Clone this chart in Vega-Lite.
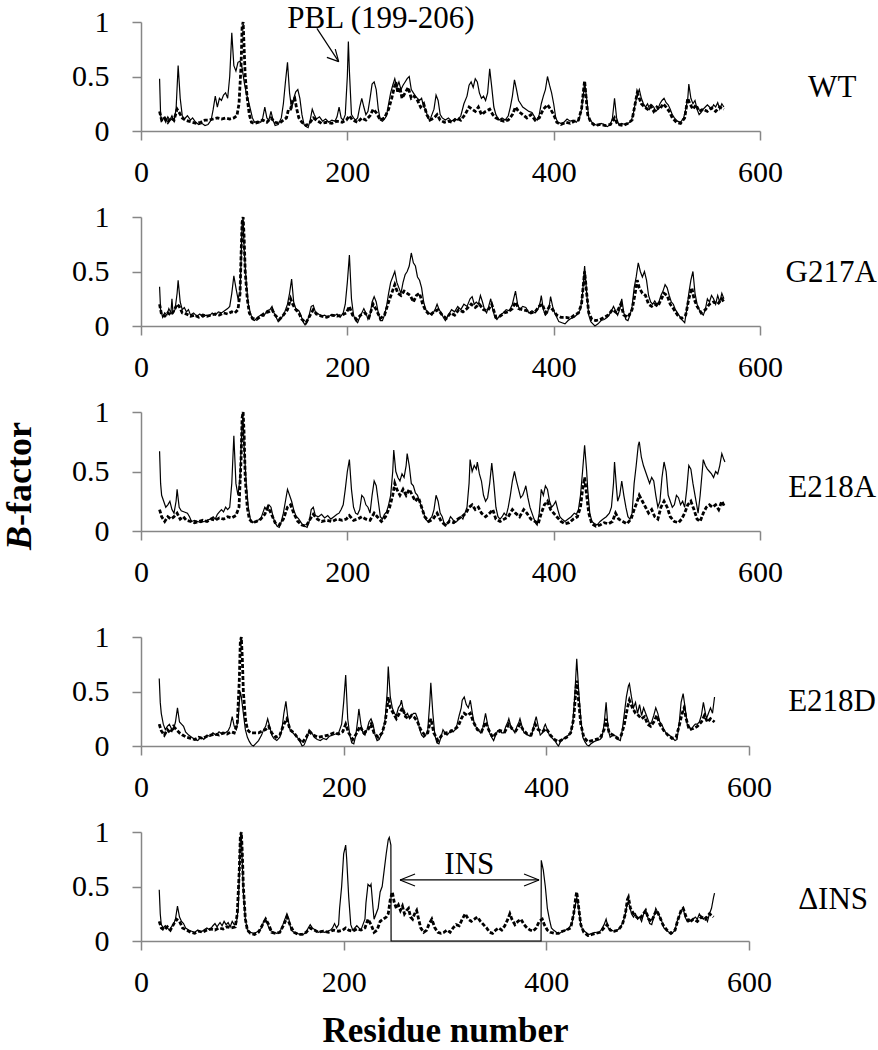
{
"$schema":"https://vega.github.io/schema/vega-lite/v6.json",
"background":"white",
"padding":{"left":2,"top":2,"right":0,"bottom":0},
"spacing":15,
"config":{
 "font":"Liberation Serif",
 "view":{"stroke":null},
 "line":{"color":"black"},
 "axis":{"grid":false,"domainColor":"#868686","domainWidth":1.5,"tickColor":"#868686","tickWidth":1.5,"tickSize":9,"labelFont":"Liberation Serif","labelFontSize":30,"labelColor":"black","labelFlush":false,"labelOverlap":false,"titleFont":"Liberation Serif","titleColor":"black"},
 "axisX":{"labelPadding":17},
 "axisY":{"labelPadding":23}
},
"datasets":{
"wt_s":[{"x":18,"y":0.48},{"x":19,"y":0.15},{"x":20,"y":0.09},{"x":22,"y":0.12},{"x":24,"y":0.08},{"x":26,"y":0.13},{"x":28,"y":0.1},{"x":30,"y":0.14},{"x":32,"y":0.09},{"x":34,"y":0.2},{"x":36,"y":0.6},{"x":38,"y":0.3},{"x":40,"y":0.14},{"x":42,"y":0.11},{"x":45,"y":0.14},{"x":48,"y":0.1},{"x":50,"y":0.12},{"x":53,"y":0.08},{"x":56,"y":0.06},{"x":59,"y":0.07},{"x":62,"y":0.05},{"x":65,"y":0.06},{"x":68,"y":0.1},{"x":70,"y":0.2},{"x":72,"y":0.32},{"x":74,"y":0.22},{"x":76,"y":0.3},{"x":78,"y":0.28},{"x":80,"y":0.33},{"x":82,"y":0.35},{"x":84,"y":0.3},{"x":86,"y":0.5},{"x":88,"y":0.9},{"x":90,"y":0.6},{"x":92,"y":0.55},{"x":94,"y":0.63},{"x":96,"y":0.64},{"x":98,"y":0.58},{"x":100,"y":0.45},{"x":102,"y":0.35},{"x":104,"y":0.28},{"x":106,"y":0.2},{"x":108,"y":0.12},{"x":110,"y":0.08},{"x":113,"y":0.09},{"x":116,"y":0.08},{"x":118,"y":0.12},{"x":120,"y":0.22},{"x":122,"y":0.12},{"x":124,"y":0.1},{"x":126,"y":0.18},{"x":128,"y":0.1},{"x":130,"y":0.05},{"x":133,"y":0.06},{"x":136,"y":0.12},{"x":138,"y":0.25},{"x":140,"y":0.45},{"x":142,"y":0.63},{"x":144,"y":0.35},{"x":146,"y":0.2},{"x":148,"y":0.3},{"x":150,"y":0.36},{"x":152,"y":0.38},{"x":154,"y":0.3},{"x":156,"y":0.15},{"x":158,"y":0.06},{"x":160,"y":0.04},{"x":162,"y":0.03},{"x":164,"y":0.1},{"x":166,"y":0.2},{"x":168,"y":0.15},{"x":170,"y":0.11},{"x":173,"y":0.13},{"x":176,"y":0.09},{"x":179,"y":0.11},{"x":182,"y":0.08},{"x":185,"y":0.1},{"x":188,"y":0.09},{"x":190,"y":0.13},{"x":192,"y":0.22},{"x":194,"y":0.12},{"x":196,"y":0.1},{"x":198,"y":0.15},{"x":200,"y":0.5},{"x":201,"y":0.82},{"x":202,"y":0.55},{"x":204,"y":0.15},{"x":206,"y":0.12},{"x":208,"y":0.1},{"x":210,"y":0.12},{"x":212,"y":0.22},{"x":214,"y":0.3},{"x":216,"y":0.22},{"x":218,"y":0.15},{"x":220,"y":0.18},{"x":222,"y":0.3},{"x":224,"y":0.43},{"x":226,"y":0.45},{"x":228,"y":0.38},{"x":230,"y":0.2},{"x":232,"y":0.1},{"x":234,"y":0.09},{"x":236,"y":0.11},{"x":238,"y":0.14},{"x":240,"y":0.25},{"x":242,"y":0.35},{"x":244,"y":0.42},{"x":246,"y":0.48},{"x":248,"y":0.4},{"x":250,"y":0.45},{"x":252,"y":0.38},{"x":254,"y":0.42},{"x":256,"y":0.45},{"x":258,"y":0.48},{"x":260,"y":0.5},{"x":262,"y":0.38},{"x":264,"y":0.35},{"x":266,"y":0.32},{"x":268,"y":0.3},{"x":270,"y":0.28},{"x":272,"y":0.3},{"x":274,"y":0.22},{"x":276,"y":0.2},{"x":278,"y":0.12},{"x":280,"y":0.1},{"x":282,"y":0.15},{"x":284,"y":0.2},{"x":286,"y":0.33},{"x":288,"y":0.28},{"x":290,"y":0.15},{"x":292,"y":0.12},{"x":295,"y":0.1},{"x":298,"y":0.12},{"x":301,"y":0.09},{"x":304,"y":0.11},{"x":307,"y":0.1},{"x":310,"y":0.14},{"x":313,"y":0.25},{"x":316,"y":0.32},{"x":318,"y":0.42},{"x":320,"y":0.45},{"x":322,"y":0.4},{"x":324,"y":0.48},{"x":326,"y":0.45},{"x":328,"y":0.35},{"x":330,"y":0.3},{"x":332,"y":0.32},{"x":334,"y":0.28},{"x":336,"y":0.35},{"x":338,"y":0.57},{"x":340,"y":0.4},{"x":342,"y":0.22},{"x":344,"y":0.15},{"x":347,"y":0.1},{"x":350,"y":0.12},{"x":353,"y":0.1},{"x":356,"y":0.14},{"x":358,"y":0.22},{"x":360,"y":0.32},{"x":362,"y":0.47},{"x":364,"y":0.38},{"x":366,"y":0.28},{"x":368,"y":0.25},{"x":370,"y":0.22},{"x":373,"y":0.2},{"x":376,"y":0.18},{"x":379,"y":0.17},{"x":382,"y":0.12},{"x":384,"y":0.1},{"x":386,"y":0.15},{"x":388,"y":0.25},{"x":390,"y":0.32},{"x":392,"y":0.38},{"x":394,"y":0.5},{"x":396,"y":0.42},{"x":398,"y":0.35},{"x":400,"y":0.25},{"x":402,"y":0.12},{"x":404,"y":0.08},{"x":407,"y":0.07},{"x":410,"y":0.08},{"x":413,"y":0.11},{"x":416,"y":0.09},{"x":419,"y":0.1},{"x":422,"y":0.08},{"x":425,"y":0.12},{"x":427,"y":0.2},{"x":429,"y":0.35},{"x":430,"y":0.45},{"x":432,"y":0.3},{"x":434,"y":0.12},{"x":437,"y":0.08},{"x":440,"y":0.06},{"x":443,"y":0.05},{"x":446,"y":0.07},{"x":449,"y":0.06},{"x":452,"y":0.04},{"x":455,"y":0.06},{"x":457,"y":0.12},{"x":459,"y":0.3},{"x":461,"y":0.12},{"x":463,"y":0.06},{"x":466,"y":0.07},{"x":469,"y":0.06},{"x":472,"y":0.07},{"x":475,"y":0.09},{"x":477,"y":0.15},{"x":479,"y":0.25},{"x":481,"y":0.33},{"x":483,"y":0.38},{"x":485,"y":0.3},{"x":487,"y":0.25},{"x":489,"y":0.22},{"x":491,"y":0.25},{"x":493,"y":0.2},{"x":495,"y":0.24},{"x":497,"y":0.22},{"x":499,"y":0.18},{"x":501,"y":0.2},{"x":503,"y":0.25},{"x":505,"y":0.28},{"x":507,"y":0.3},{"x":509,"y":0.26},{"x":511,"y":0.24},{"x":513,"y":0.2},{"x":515,"y":0.15},{"x":517,"y":0.12},{"x":520,"y":0.09},{"x":523,"y":0.08},{"x":526,"y":0.12},{"x":528,"y":0.2},{"x":530,"y":0.3},{"x":531,"y":0.43},{"x":533,"y":0.3},{"x":535,"y":0.25},{"x":537,"y":0.28},{"x":539,"y":0.2},{"x":541,"y":0.15},{"x":543,"y":0.17},{"x":545,"y":0.2},{"x":547,"y":0.22},{"x":549,"y":0.24},{"x":551,"y":0.22},{"x":553,"y":0.2},{"x":555,"y":0.24},{"x":557,"y":0.22},{"x":559,"y":0.26},{"x":561,"y":0.2},{"x":563,"y":0.25},{"x":565,"y":0.22}],
"wt_d":[{"x":18,"y":0.18},{"x":20,"y":0.1},{"x":23,"y":0.12},{"x":26,"y":0.08},{"x":29,"y":0.12},{"x":32,"y":0.1},{"x":35,"y":0.2},{"x":37,"y":0.17},{"x":40,"y":0.12},{"x":43,"y":0.1},{"x":46,"y":0.09},{"x":50,"y":0.08},{"x":54,"y":0.07},{"x":58,"y":0.08},{"x":62,"y":0.1},{"x":66,"y":0.1},{"x":70,"y":0.11},{"x":74,"y":0.12},{"x":78,"y":0.11},{"x":82,"y":0.12},{"x":86,"y":0.11},{"x":90,"y":0.12},{"x":93,"y":0.14},{"x":95,"y":0.25},{"x":97,"y":0.6},{"x":98,"y":0.95},{"x":99,"y":1.0},{"x":100,"y":0.75},{"x":101,"y":0.5},{"x":103,"y":0.3},{"x":105,"y":0.15},{"x":107,"y":0.08},{"x":110,"y":0.07},{"x":114,"y":0.08},{"x":118,"y":0.1},{"x":122,"y":0.08},{"x":126,"y":0.12},{"x":130,"y":0.08},{"x":134,"y":0.07},{"x":138,"y":0.1},{"x":141,"y":0.12},{"x":143,"y":0.2},{"x":145,"y":0.2},{"x":147,"y":0.28},{"x":149,"y":0.3},{"x":151,"y":0.2},{"x":153,"y":0.12},{"x":156,"y":0.08},{"x":160,"y":0.05},{"x":164,"y":0.08},{"x":167,"y":0.12},{"x":170,"y":0.1},{"x":175,"y":0.07},{"x":180,"y":0.08},{"x":185,"y":0.07},{"x":190,"y":0.09},{"x":195,"y":0.08},{"x":199,"y":0.1},{"x":202,"y":0.14},{"x":205,"y":0.1},{"x":210,"y":0.08},{"x":214,"y":0.12},{"x":218,"y":0.1},{"x":222,"y":0.14},{"x":225,"y":0.2},{"x":228,"y":0.17},{"x":232,"y":0.1},{"x":236,"y":0.12},{"x":240,"y":0.2},{"x":243,"y":0.3},{"x":245,"y":0.38},{"x":247,"y":0.45},{"x":249,"y":0.35},{"x":251,"y":0.4},{"x":253,"y":0.3},{"x":256,"y":0.35},{"x":259,"y":0.4},{"x":262,"y":0.3},{"x":265,"y":0.32},{"x":268,"y":0.28},{"x":271,"y":0.22},{"x":274,"y":0.25},{"x":277,"y":0.15},{"x":280,"y":0.1},{"x":284,"y":0.12},{"x":287,"y":0.15},{"x":290,"y":0.1},{"x":294,"y":0.08},{"x":298,"y":0.09},{"x":302,"y":0.08},{"x":306,"y":0.12},{"x":310,"y":0.1},{"x":314,"y":0.15},{"x":318,"y":0.22},{"x":321,"y":0.2},{"x":324,"y":0.18},{"x":327,"y":0.22},{"x":330,"y":0.15},{"x":334,"y":0.18},{"x":338,"y":0.2},{"x":341,"y":0.15},{"x":344,"y":0.12},{"x":348,"y":0.1},{"x":352,"y":0.09},{"x":356,"y":0.1},{"x":360,"y":0.15},{"x":363,"y":0.22},{"x":366,"y":0.18},{"x":370,"y":0.15},{"x":374,"y":0.12},{"x":378,"y":0.15},{"x":382,"y":0.1},{"x":386,"y":0.12},{"x":390,"y":0.2},{"x":394,"y":0.24},{"x":397,"y":0.2},{"x":400,"y":0.15},{"x":403,"y":0.08},{"x":407,"y":0.06},{"x":412,"y":0.08},{"x":416,"y":0.07},{"x":420,"y":0.09},{"x":424,"y":0.1},{"x":427,"y":0.2},{"x":429,"y":0.38},{"x":430,"y":0.46},{"x":431,"y":0.35},{"x":433,"y":0.15},{"x":436,"y":0.08},{"x":440,"y":0.05},{"x":445,"y":0.06},{"x":450,"y":0.05},{"x":455,"y":0.06},{"x":459,"y":0.12},{"x":462,"y":0.06},{"x":467,"y":0.05},{"x":472,"y":0.07},{"x":476,"y":0.1},{"x":479,"y":0.25},{"x":481,"y":0.35},{"x":483,"y":0.3},{"x":485,"y":0.25},{"x":488,"y":0.22},{"x":491,"y":0.2},{"x":494,"y":0.23},{"x":497,"y":0.18},{"x":500,"y":0.22},{"x":503,"y":0.2},{"x":506,"y":0.25},{"x":509,"y":0.22},{"x":512,"y":0.18},{"x":515,"y":0.12},{"x":519,"y":0.08},{"x":523,"y":0.07},{"x":527,"y":0.12},{"x":530,"y":0.3},{"x":532,"y":0.25},{"x":535,"y":0.2},{"x":538,"y":0.24},{"x":541,"y":0.18},{"x":545,"y":0.2},{"x":549,"y":0.18},{"x":553,"y":0.21},{"x":557,"y":0.18},{"x":561,"y":0.22},{"x":565,"y":0.2}],
"g_s":[{"x":18,"y":0.36},{"x":19,"y":0.15},{"x":21,"y":0.08},{"x":23,"y":0.12},{"x":25,"y":0.1},{"x":27,"y":0.16},{"x":29,"y":0.12},{"x":30,"y":0.25},{"x":31,"y":0.12},{"x":33,"y":0.15},{"x":35,"y":0.3},{"x":36,"y":0.42},{"x":38,"y":0.22},{"x":40,"y":0.15},{"x":42,"y":0.17},{"x":44,"y":0.13},{"x":46,"y":0.15},{"x":48,"y":0.1},{"x":51,"y":0.12},{"x":54,"y":0.09},{"x":57,"y":0.11},{"x":60,"y":0.08},{"x":63,"y":0.1},{"x":66,"y":0.09},{"x":69,"y":0.12},{"x":72,"y":0.1},{"x":75,"y":0.13},{"x":78,"y":0.12},{"x":81,"y":0.14},{"x":84,"y":0.16},{"x":86,"y":0.18},{"x":88,"y":0.3},{"x":90,"y":0.46},{"x":92,"y":0.35},{"x":94,"y":0.25},{"x":96,"y":0.3},{"x":97,"y":0.6},{"x":98,"y":0.95},{"x":99,"y":0.98},{"x":100,"y":0.7},{"x":102,"y":0.4},{"x":104,"y":0.2},{"x":106,"y":0.12},{"x":108,"y":0.06},{"x":110,"y":0.05},{"x":113,"y":0.08},{"x":116,"y":0.1},{"x":119,"y":0.09},{"x":122,"y":0.14},{"x":125,"y":0.15},{"x":127,"y":0.18},{"x":129,"y":0.12},{"x":131,"y":0.08},{"x":133,"y":0.04},{"x":136,"y":0.07},{"x":139,"y":0.12},{"x":142,"y":0.2},{"x":144,"y":0.3},{"x":146,"y":0.43},{"x":148,"y":0.22},{"x":150,"y":0.16},{"x":153,"y":0.14},{"x":155,"y":0.1},{"x":157,"y":0.04},{"x":159,"y":0.01},{"x":161,"y":0.04},{"x":163,"y":0.1},{"x":165,"y":0.18},{"x":167,"y":0.19},{"x":169,"y":0.13},{"x":172,"y":0.11},{"x":175,"y":0.09},{"x":178,"y":0.1},{"x":181,"y":0.08},{"x":184,"y":0.1},{"x":187,"y":0.09},{"x":190,"y":0.11},{"x":193,"y":0.08},{"x":196,"y":0.12},{"x":198,"y":0.2},{"x":200,"y":0.4},{"x":202,"y":0.65},{"x":204,"y":0.25},{"x":206,"y":0.1},{"x":208,"y":0.05},{"x":210,"y":0.03},{"x":212,"y":0.08},{"x":214,"y":0.12},{"x":216,"y":0.16},{"x":218,"y":0.12},{"x":220,"y":0.06},{"x":222,"y":0.1},{"x":224,"y":0.22},{"x":226,"y":0.27},{"x":228,"y":0.22},{"x":230,"y":0.12},{"x":232,"y":0.05},{"x":234,"y":0.05},{"x":236,"y":0.1},{"x":238,"y":0.18},{"x":240,"y":0.3},{"x":242,"y":0.4},{"x":244,"y":0.45},{"x":246,"y":0.5},{"x":248,"y":0.4},{"x":250,"y":0.35},{"x":252,"y":0.3},{"x":254,"y":0.4},{"x":256,"y":0.47},{"x":258,"y":0.5},{"x":260,"y":0.55},{"x":262,"y":0.67},{"x":264,"y":0.58},{"x":266,"y":0.55},{"x":268,"y":0.45},{"x":270,"y":0.42},{"x":272,"y":0.35},{"x":274,"y":0.22},{"x":276,"y":0.15},{"x":279,"y":0.12},{"x":282,"y":0.1},{"x":285,"y":0.15},{"x":287,"y":0.2},{"x":289,"y":0.15},{"x":291,"y":0.12},{"x":293,"y":0.08},{"x":295,"y":0.05},{"x":298,"y":0.1},{"x":301,"y":0.15},{"x":304,"y":0.13},{"x":307,"y":0.18},{"x":310,"y":0.15},{"x":313,"y":0.2},{"x":316,"y":0.18},{"x":319,"y":0.25},{"x":321,"y":0.27},{"x":323,"y":0.2},{"x":325,"y":0.22},{"x":327,"y":0.2},{"x":329,"y":0.28},{"x":331,"y":0.22},{"x":333,"y":0.15},{"x":335,"y":0.12},{"x":337,"y":0.18},{"x":339,"y":0.25},{"x":341,"y":0.15},{"x":343,"y":0.08},{"x":345,"y":0.06},{"x":348,"y":0.1},{"x":351,"y":0.12},{"x":354,"y":0.15},{"x":357,"y":0.14},{"x":360,"y":0.2},{"x":362,"y":0.28},{"x":363,"y":0.32},{"x":365,"y":0.2},{"x":367,"y":0.15},{"x":370,"y":0.18},{"x":373,"y":0.17},{"x":376,"y":0.12},{"x":379,"y":0.14},{"x":382,"y":0.12},{"x":385,"y":0.16},{"x":387,"y":0.22},{"x":388,"y":0.28},{"x":390,"y":0.15},{"x":392,"y":0.1},{"x":394,"y":0.12},{"x":396,"y":0.2},{"x":397,"y":0.27},{"x":399,"y":0.18},{"x":401,"y":0.12},{"x":403,"y":0.08},{"x":405,"y":0.04},{"x":408,"y":0.03},{"x":411,"y":0.02},{"x":414,"y":0.05},{"x":417,"y":0.07},{"x":420,"y":0.08},{"x":423,"y":0.11},{"x":426,"y":0.15},{"x":428,"y":0.3},{"x":430,"y":0.55},{"x":432,"y":0.3},{"x":434,"y":0.1},{"x":436,"y":0.04},{"x":438,"y":0.02},{"x":440,"y":0.0},{"x":443,"y":0.02},{"x":446,"y":0.05},{"x":449,"y":0.06},{"x":452,"y":0.08},{"x":455,"y":0.12},{"x":458,"y":0.18},{"x":460,"y":0.14},{"x":462,"y":0.1},{"x":464,"y":0.15},{"x":466,"y":0.25},{"x":468,"y":0.12},{"x":470,"y":0.06},{"x":472,"y":0.05},{"x":474,"y":0.1},{"x":476,"y":0.18},{"x":478,"y":0.35},{"x":480,"y":0.45},{"x":482,"y":0.58},{"x":484,"y":0.5},{"x":486,"y":0.45},{"x":488,"y":0.5},{"x":490,"y":0.42},{"x":492,"y":0.28},{"x":494,"y":0.22},{"x":496,"y":0.2},{"x":498,"y":0.23},{"x":500,"y":0.2},{"x":502,"y":0.22},{"x":504,"y":0.28},{"x":506,"y":0.32},{"x":508,"y":0.38},{"x":510,"y":0.35},{"x":512,"y":0.28},{"x":514,"y":0.22},{"x":516,"y":0.2},{"x":518,"y":0.15},{"x":520,"y":0.12},{"x":522,"y":0.09},{"x":524,"y":0.06},{"x":527,"y":0.03},{"x":529,"y":0.15},{"x":531,"y":0.3},{"x":533,"y":0.42},{"x":535,"y":0.5},{"x":537,"y":0.3},{"x":539,"y":0.2},{"x":541,"y":0.15},{"x":543,"y":0.12},{"x":545,"y":0.1},{"x":547,"y":0.15},{"x":549,"y":0.25},{"x":551,"y":0.22},{"x":553,"y":0.28},{"x":555,"y":0.25},{"x":557,"y":0.2},{"x":559,"y":0.28},{"x":561,"y":0.22},{"x":563,"y":0.3},{"x":565,"y":0.25}],
"g_d":[{"x":18,"y":0.2},{"x":20,"y":0.1},{"x":23,"y":0.09},{"x":26,"y":0.12},{"x":29,"y":0.1},{"x":32,"y":0.14},{"x":35,"y":0.2},{"x":37,"y":0.18},{"x":40,"y":0.12},{"x":44,"y":0.11},{"x":48,"y":0.09},{"x":52,"y":0.1},{"x":56,"y":0.08},{"x":60,"y":0.1},{"x":64,"y":0.09},{"x":68,"y":0.1},{"x":72,"y":0.11},{"x":76,"y":0.1},{"x":80,"y":0.12},{"x":84,"y":0.11},{"x":88,"y":0.13},{"x":91,"y":0.12},{"x":94,"y":0.15},{"x":96,"y":0.3},{"x":97,"y":0.65},{"x":98,"y":0.95},{"x":99,"y":1.0},{"x":100,"y":0.8},{"x":101,"y":0.5},{"x":103,"y":0.25},{"x":105,"y":0.12},{"x":108,"y":0.07},{"x":112,"y":0.06},{"x":116,"y":0.09},{"x":120,"y":0.12},{"x":124,"y":0.13},{"x":127,"y":0.15},{"x":130,"y":0.1},{"x":134,"y":0.06},{"x":138,"y":0.1},{"x":142,"y":0.15},{"x":145,"y":0.25},{"x":147,"y":0.2},{"x":150,"y":0.15},{"x":153,"y":0.12},{"x":156,"y":0.06},{"x":160,"y":0.03},{"x":164,"y":0.1},{"x":167,"y":0.15},{"x":170,"y":0.11},{"x":175,"y":0.09},{"x":180,"y":0.08},{"x":185,"y":0.1},{"x":190,"y":0.09},{"x":195,"y":0.1},{"x":199,"y":0.12},{"x":202,"y":0.18},{"x":205,"y":0.1},{"x":209,"y":0.06},{"x":213,"y":0.1},{"x":217,"y":0.12},{"x":221,"y":0.08},{"x":225,"y":0.2},{"x":228,"y":0.15},{"x":232,"y":0.07},{"x":236,"y":0.1},{"x":240,"y":0.22},{"x":243,"y":0.3},{"x":246,"y":0.38},{"x":249,"y":0.3},{"x":252,"y":0.28},{"x":255,"y":0.32},{"x":258,"y":0.3},{"x":261,"y":0.28},{"x":264,"y":0.22},{"x":267,"y":0.28},{"x":270,"y":0.3},{"x":273,"y":0.2},{"x":276,"y":0.14},{"x":280,"y":0.1},{"x":284,"y":0.13},{"x":288,"y":0.15},{"x":292,"y":0.1},{"x":296,"y":0.07},{"x":300,"y":0.12},{"x":304,"y":0.1},{"x":308,"y":0.15},{"x":312,"y":0.13},{"x":316,"y":0.16},{"x":320,"y":0.2},{"x":324,"y":0.17},{"x":328,"y":0.2},{"x":332,"y":0.15},{"x":336,"y":0.14},{"x":340,"y":0.2},{"x":344,"y":0.08},{"x":348,"y":0.09},{"x":352,"y":0.12},{"x":356,"y":0.13},{"x":360,"y":0.16},{"x":363,"y":0.22},{"x":366,"y":0.16},{"x":370,"y":0.15},{"x":374,"y":0.14},{"x":378,"y":0.12},{"x":382,"y":0.13},{"x":386,"y":0.18},{"x":389,"y":0.2},{"x":392,"y":0.12},{"x":396,"y":0.18},{"x":399,"y":0.15},{"x":403,"y":0.1},{"x":407,"y":0.08},{"x":412,"y":0.08},{"x":416,"y":0.07},{"x":420,"y":0.1},{"x":424,"y":0.12},{"x":427,"y":0.2},{"x":429,"y":0.4},{"x":430,"y":0.5},{"x":432,"y":0.3},{"x":434,"y":0.12},{"x":437,"y":0.06},{"x":441,"y":0.05},{"x":445,"y":0.06},{"x":449,"y":0.08},{"x":453,"y":0.1},{"x":457,"y":0.15},{"x":461,"y":0.12},{"x":465,"y":0.2},{"x":468,"y":0.1},{"x":472,"y":0.08},{"x":476,"y":0.15},{"x":479,"y":0.3},{"x":481,"y":0.42},{"x":483,"y":0.35},{"x":486,"y":0.3},{"x":489,"y":0.28},{"x":492,"y":0.2},{"x":495,"y":0.18},{"x":498,"y":0.2},{"x":501,"y":0.18},{"x":504,"y":0.24},{"x":507,"y":0.3},{"x":510,"y":0.28},{"x":513,"y":0.2},{"x":516,"y":0.16},{"x":520,"y":0.1},{"x":524,"y":0.07},{"x":528,"y":0.1},{"x":531,"y":0.25},{"x":534,"y":0.35},{"x":536,"y":0.25},{"x":539,"y":0.18},{"x":543,"y":0.12},{"x":547,"y":0.15},{"x":551,"y":0.2},{"x":555,"y":0.22},{"x":559,"y":0.2},{"x":563,"y":0.25},{"x":565,"y":0.22}],
"a_s":[{"x":18,"y":0.67},{"x":19,"y":0.4},{"x":20,"y":0.3},{"x":22,"y":0.25},{"x":24,"y":0.2},{"x":26,"y":0.22},{"x":28,"y":0.25},{"x":30,"y":0.18},{"x":32,"y":0.15},{"x":34,"y":0.25},{"x":35,"y":0.35},{"x":37,"y":0.2},{"x":39,"y":0.17},{"x":42,"y":0.16},{"x":45,"y":0.15},{"x":47,"y":0.12},{"x":49,"y":0.08},{"x":52,"y":0.09},{"x":55,"y":0.08},{"x":58,"y":0.07},{"x":61,"y":0.08},{"x":64,"y":0.09},{"x":67,"y":0.1},{"x":70,"y":0.12},{"x":72,"y":0.1},{"x":74,"y":0.14},{"x":76,"y":0.16},{"x":78,"y":0.18},{"x":80,"y":0.16},{"x":82,"y":0.2},{"x":84,"y":0.18},{"x":86,"y":0.2},{"x":88,"y":0.4},{"x":90,"y":0.8},{"x":92,"y":0.4},{"x":94,"y":0.3},{"x":96,"y":0.45},{"x":97,"y":0.7},{"x":98,"y":0.9},{"x":99,"y":0.92},{"x":100,"y":0.7},{"x":102,"y":0.4},{"x":104,"y":0.2},{"x":106,"y":0.1},{"x":108,"y":0.07},{"x":110,"y":0.08},{"x":113,"y":0.09},{"x":116,"y":0.1},{"x":118,"y":0.15},{"x":120,"y":0.2},{"x":122,"y":0.18},{"x":124,"y":0.22},{"x":126,"y":0.2},{"x":128,"y":0.12},{"x":130,"y":0.07},{"x":132,"y":0.04},{"x":134,"y":0.03},{"x":136,"y":0.08},{"x":138,"y":0.15},{"x":140,"y":0.25},{"x":142,"y":0.35},{"x":144,"y":0.3},{"x":146,"y":0.25},{"x":148,"y":0.18},{"x":150,"y":0.13},{"x":153,"y":0.1},{"x":156,"y":0.06},{"x":159,"y":0.04},{"x":161,"y":0.03},{"x":163,"y":0.08},{"x":165,"y":0.18},{"x":167,"y":0.2},{"x":169,"y":0.13},{"x":172,"y":0.12},{"x":175,"y":0.14},{"x":178,"y":0.11},{"x":181,"y":0.13},{"x":184,"y":0.1},{"x":187,"y":0.12},{"x":190,"y":0.14},{"x":192,"y":0.15},{"x":194,"y":0.18},{"x":196,"y":0.22},{"x":198,"y":0.35},{"x":200,"y":0.5},{"x":202,"y":0.6},{"x":204,"y":0.35},{"x":206,"y":0.2},{"x":208,"y":0.15},{"x":210,"y":0.14},{"x":212,"y":0.18},{"x":214,"y":0.3},{"x":216,"y":0.28},{"x":218,"y":0.22},{"x":220,"y":0.2},{"x":222,"y":0.15},{"x":224,"y":0.3},{"x":226,"y":0.42},{"x":228,"y":0.38},{"x":230,"y":0.25},{"x":232,"y":0.12},{"x":234,"y":0.1},{"x":236,"y":0.14},{"x":238,"y":0.16},{"x":240,"y":0.22},{"x":242,"y":0.3},{"x":244,"y":0.5},{"x":245,"y":0.68},{"x":247,"y":0.5},{"x":249,"y":0.45},{"x":251,"y":0.42},{"x":253,"y":0.48},{"x":255,"y":0.45},{"x":257,"y":0.55},{"x":258,"y":0.65},{"x":260,"y":0.55},{"x":262,"y":0.4},{"x":264,"y":0.38},{"x":266,"y":0.32},{"x":268,"y":0.3},{"x":270,"y":0.25},{"x":272,"y":0.2},{"x":274,"y":0.15},{"x":276,"y":0.1},{"x":278,"y":0.08},{"x":280,"y":0.1},{"x":282,"y":0.12},{"x":284,"y":0.18},{"x":286,"y":0.3},{"x":288,"y":0.25},{"x":290,"y":0.15},{"x":292,"y":0.12},{"x":294,"y":0.06},{"x":296,"y":0.05},{"x":298,"y":0.08},{"x":300,"y":0.12},{"x":302,"y":0.1},{"x":304,"y":0.07},{"x":306,"y":0.08},{"x":308,"y":0.1},{"x":310,"y":0.12},{"x":312,"y":0.1},{"x":314,"y":0.15},{"x":316,"y":0.2},{"x":318,"y":0.4},{"x":319,"y":0.6},{"x":321,"y":0.5},{"x":323,"y":0.55},{"x":325,"y":0.52},{"x":326,"y":0.58},{"x":328,"y":0.48},{"x":330,"y":0.42},{"x":332,"y":0.3},{"x":334,"y":0.25},{"x":336,"y":0.28},{"x":338,"y":0.4},{"x":340,"y":0.57},{"x":342,"y":0.4},{"x":344,"y":0.2},{"x":346,"y":0.12},{"x":348,"y":0.1},{"x":350,"y":0.12},{"x":352,"y":0.15},{"x":354,"y":0.13},{"x":356,"y":0.2},{"x":358,"y":0.3},{"x":360,"y":0.42},{"x":362,"y":0.5},{"x":364,"y":0.42},{"x":366,"y":0.35},{"x":368,"y":0.28},{"x":370,"y":0.3},{"x":372,"y":0.35},{"x":373,"y":0.38},{"x":375,"y":0.28},{"x":377,"y":0.2},{"x":379,"y":0.15},{"x":381,"y":0.1},{"x":383,"y":0.06},{"x":384,"y":0.05},{"x":386,"y":0.15},{"x":388,"y":0.35},{"x":390,"y":0.3},{"x":392,"y":0.38},{"x":394,"y":0.35},{"x":396,"y":0.25},{"x":398,"y":0.2},{"x":400,"y":0.22},{"x":402,"y":0.25},{"x":404,"y":0.18},{"x":406,"y":0.12},{"x":408,"y":0.1},{"x":411,"y":0.08},{"x":414,"y":0.1},{"x":417,"y":0.12},{"x":420,"y":0.15},{"x":422,"y":0.14},{"x":424,"y":0.18},{"x":426,"y":0.3},{"x":428,"y":0.5},{"x":430,"y":0.72},{"x":432,"y":0.5},{"x":433,"y":0.35},{"x":435,"y":0.15},{"x":437,"y":0.08},{"x":440,"y":0.06},{"x":442,"y":0.05},{"x":445,"y":0.08},{"x":448,"y":0.1},{"x":451,"y":0.12},{"x":454,"y":0.15},{"x":456,"y":0.2},{"x":458,"y":0.4},{"x":459,"y":0.58},{"x":461,"y":0.35},{"x":462,"y":0.25},{"x":464,"y":0.3},{"x":466,"y":0.42},{"x":468,"y":0.3},{"x":470,"y":0.2},{"x":472,"y":0.12},{"x":474,"y":0.1},{"x":476,"y":0.15},{"x":478,"y":0.4},{"x":480,"y":0.55},{"x":482,"y":0.72},{"x":483,"y":0.75},{"x":485,"y":0.62},{"x":487,"y":0.55},{"x":489,"y":0.5},{"x":491,"y":0.45},{"x":493,"y":0.4},{"x":495,"y":0.45},{"x":497,"y":0.42},{"x":499,"y":0.3},{"x":501,"y":0.2},{"x":503,"y":0.25},{"x":505,"y":0.45},{"x":507,"y":0.58},{"x":509,"y":0.5},{"x":511,"y":0.3},{"x":513,"y":0.25},{"x":515,"y":0.2},{"x":517,"y":0.22},{"x":519,"y":0.3},{"x":521,"y":0.28},{"x":523,"y":0.22},{"x":525,"y":0.25},{"x":527,"y":0.2},{"x":529,"y":0.35},{"x":531,"y":0.55},{"x":533,"y":0.52},{"x":535,"y":0.4},{"x":537,"y":0.3},{"x":539,"y":0.2},{"x":540,"y":0.15},{"x":542,"y":0.3},{"x":544,"y":0.5},{"x":545,"y":0.6},{"x":547,"y":0.55},{"x":549,"y":0.52},{"x":551,"y":0.5},{"x":553,"y":0.48},{"x":555,"y":0.45},{"x":557,"y":0.5},{"x":559,"y":0.48},{"x":561,"y":0.55},{"x":563,"y":0.65},{"x":565,"y":0.6},{"x":566,"y":0.58}],
"a_d":[{"x":18,"y":0.18},{"x":20,"y":0.12},{"x":23,"y":0.08},{"x":26,"y":0.12},{"x":29,"y":0.1},{"x":32,"y":0.12},{"x":35,"y":0.15},{"x":38,"y":0.1},{"x":41,"y":0.12},{"x":44,"y":0.09},{"x":48,"y":0.08},{"x":52,"y":0.07},{"x":56,"y":0.08},{"x":60,"y":0.09},{"x":64,"y":0.08},{"x":68,"y":0.1},{"x":72,"y":0.09},{"x":76,"y":0.11},{"x":80,"y":0.1},{"x":84,"y":0.12},{"x":88,"y":0.11},{"x":92,"y":0.13},{"x":95,"y":0.2},{"x":97,"y":0.6},{"x":98,"y":0.95},{"x":99,"y":1.0},{"x":100,"y":0.8},{"x":101,"y":0.45},{"x":103,"y":0.2},{"x":105,"y":0.1},{"x":108,"y":0.07},{"x":112,"y":0.08},{"x":116,"y":0.1},{"x":120,"y":0.14},{"x":123,"y":0.2},{"x":126,"y":0.15},{"x":130,"y":0.07},{"x":134,"y":0.05},{"x":138,"y":0.1},{"x":142,"y":0.2},{"x":145,"y":0.22},{"x":148,"y":0.15},{"x":152,"y":0.08},{"x":156,"y":0.05},{"x":160,"y":0.04},{"x":164,"y":0.1},{"x":167,"y":0.14},{"x":171,"y":0.1},{"x":175,"y":0.08},{"x":180,"y":0.09},{"x":185,"y":0.08},{"x":190,"y":0.1},{"x":195,"y":0.09},{"x":199,"y":0.1},{"x":202,"y":0.13},{"x":206,"y":0.09},{"x":210,"y":0.1},{"x":214,"y":0.12},{"x":218,"y":0.1},{"x":222,"y":0.09},{"x":226,"y":0.15},{"x":229,"y":0.12},{"x":233,"y":0.08},{"x":237,"y":0.12},{"x":241,"y":0.2},{"x":244,"y":0.3},{"x":246,"y":0.4},{"x":248,"y":0.35},{"x":251,"y":0.3},{"x":254,"y":0.35},{"x":257,"y":0.3},{"x":260,"y":0.35},{"x":263,"y":0.3},{"x":266,"y":0.25},{"x":269,"y":0.28},{"x":272,"y":0.2},{"x":275,"y":0.12},{"x":279,"y":0.08},{"x":283,"y":0.1},{"x":287,"y":0.15},{"x":291,"y":0.08},{"x":295,"y":0.05},{"x":299,"y":0.08},{"x":303,"y":0.07},{"x":307,"y":0.1},{"x":311,"y":0.12},{"x":315,"y":0.15},{"x":318,"y":0.2},{"x":321,"y":0.22},{"x":324,"y":0.18},{"x":327,"y":0.2},{"x":330,"y":0.15},{"x":334,"y":0.12},{"x":338,"y":0.15},{"x":341,"y":0.18},{"x":344,"y":0.1},{"x":348,"y":0.08},{"x":352,"y":0.1},{"x":356,"y":0.12},{"x":360,"y":0.18},{"x":363,"y":0.15},{"x":367,"y":0.12},{"x":371,"y":0.18},{"x":374,"y":0.15},{"x":378,"y":0.1},{"x":382,"y":0.08},{"x":385,"y":0.06},{"x":388,"y":0.15},{"x":391,"y":0.22},{"x":394,"y":0.25},{"x":397,"y":0.18},{"x":400,"y":0.15},{"x":403,"y":0.12},{"x":407,"y":0.08},{"x":411,"y":0.06},{"x":415,"y":0.07},{"x":419,"y":0.1},{"x":423,"y":0.12},{"x":426,"y":0.2},{"x":428,"y":0.35},{"x":430,"y":0.45},{"x":432,"y":0.3},{"x":434,"y":0.15},{"x":437,"y":0.06},{"x":441,"y":0.04},{"x":445,"y":0.05},{"x":449,"y":0.07},{"x":453,"y":0.06},{"x":457,"y":0.08},{"x":460,"y":0.15},{"x":463,"y":0.1},{"x":467,"y":0.08},{"x":471,"y":0.06},{"x":475,"y":0.1},{"x":478,"y":0.18},{"x":481,"y":0.25},{"x":483,"y":0.3},{"x":486,"y":0.25},{"x":489,"y":0.2},{"x":492,"y":0.15},{"x":495,"y":0.18},{"x":498,"y":0.12},{"x":501,"y":0.1},{"x":504,"y":0.2},{"x":507,"y":0.25},{"x":510,"y":0.2},{"x":513,"y":0.12},{"x":517,"y":0.08},{"x":521,"y":0.07},{"x":524,"y":0.1},{"x":527,"y":0.15},{"x":530,"y":0.22},{"x":533,"y":0.25},{"x":536,"y":0.18},{"x":539,"y":0.1},{"x":542,"y":0.08},{"x":545,"y":0.15},{"x":548,"y":0.2},{"x":551,"y":0.22},{"x":554,"y":0.2},{"x":557,"y":0.22},{"x":560,"y":0.18},{"x":563,"y":0.25},{"x":566,"y":0.2}],
"d_s":[{"x":18,"y":0.62},{"x":19,"y":0.4},{"x":20,"y":0.3},{"x":22,"y":0.2},{"x":24,"y":0.15},{"x":26,"y":0.18},{"x":28,"y":0.2},{"x":30,"y":0.16},{"x":32,"y":0.15},{"x":34,"y":0.22},{"x":36,"y":0.35},{"x":38,"y":0.22},{"x":40,"y":0.2},{"x":42,"y":0.18},{"x":44,"y":0.13},{"x":47,"y":0.1},{"x":50,"y":0.08},{"x":53,"y":0.06},{"x":56,"y":0.05},{"x":59,"y":0.08},{"x":62,"y":0.06},{"x":65,"y":0.1},{"x":68,"y":0.09},{"x":71,"y":0.12},{"x":74,"y":0.1},{"x":77,"y":0.13},{"x":80,"y":0.11},{"x":83,"y":0.12},{"x":86,"y":0.14},{"x":88,"y":0.18},{"x":90,"y":0.27},{"x":92,"y":0.18},{"x":94,"y":0.15},{"x":96,"y":0.25},{"x":97,"y":0.4},{"x":98,"y":0.5},{"x":99,"y":0.45},{"x":101,"y":0.3},{"x":103,"y":0.15},{"x":105,"y":0.08},{"x":107,"y":0.04},{"x":109,"y":0.01},{"x":111,"y":0.0},{"x":113,"y":0.02},{"x":116,"y":0.05},{"x":119,"y":0.1},{"x":121,"y":0.15},{"x":123,"y":0.18},{"x":125,"y":0.25},{"x":127,"y":0.18},{"x":129,"y":0.1},{"x":131,"y":0.07},{"x":134,"y":0.05},{"x":137,"y":0.08},{"x":139,"y":0.15},{"x":141,"y":0.3},{"x":143,"y":0.41},{"x":145,"y":0.25},{"x":147,"y":0.15},{"x":150,"y":0.12},{"x":152,"y":0.1},{"x":155,"y":0.07},{"x":157,"y":0.04},{"x":159,"y":0.0},{"x":161,"y":0.01},{"x":164,"y":0.08},{"x":166,"y":0.15},{"x":168,"y":0.13},{"x":171,"y":0.08},{"x":174,"y":0.06},{"x":177,"y":0.05},{"x":180,"y":0.07},{"x":183,"y":0.06},{"x":186,"y":0.09},{"x":189,"y":0.1},{"x":192,"y":0.11},{"x":195,"y":0.12},{"x":198,"y":0.2},{"x":200,"y":0.4},{"x":202,"y":0.65},{"x":204,"y":0.25},{"x":206,"y":0.1},{"x":208,"y":0.03},{"x":210,"y":0.02},{"x":212,"y":0.1},{"x":214,"y":0.25},{"x":215,"y":0.34},{"x":217,"y":0.2},{"x":219,"y":0.12},{"x":221,"y":0.1},{"x":223,"y":0.15},{"x":225,"y":0.22},{"x":227,"y":0.25},{"x":229,"y":0.2},{"x":231,"y":0.1},{"x":233,"y":0.05},{"x":235,"y":0.06},{"x":237,"y":0.1},{"x":239,"y":0.15},{"x":241,"y":0.25},{"x":243,"y":0.5},{"x":244,"y":0.73},{"x":246,"y":0.45},{"x":248,"y":0.35},{"x":250,"y":0.3},{"x":252,"y":0.28},{"x":254,"y":0.35},{"x":256,"y":0.38},{"x":257,"y":0.42},{"x":259,"y":0.32},{"x":261,"y":0.28},{"x":263,"y":0.3},{"x":265,"y":0.25},{"x":267,"y":0.28},{"x":269,"y":0.3},{"x":271,"y":0.3},{"x":273,"y":0.25},{"x":275,"y":0.15},{"x":277,"y":0.1},{"x":279,"y":0.08},{"x":281,"y":0.1},{"x":283,"y":0.15},{"x":285,"y":0.4},{"x":286,"y":0.58},{"x":288,"y":0.3},{"x":290,"y":0.1},{"x":292,"y":0.03},{"x":294,"y":0.02},{"x":296,"y":0.08},{"x":298,"y":0.15},{"x":300,"y":0.12},{"x":302,"y":0.1},{"x":304,"y":0.12},{"x":306,"y":0.15},{"x":308,"y":0.13},{"x":310,"y":0.15},{"x":312,"y":0.2},{"x":314,"y":0.28},{"x":316,"y":0.35},{"x":317,"y":0.42},{"x":319,"y":0.45},{"x":321,"y":0.38},{"x":323,"y":0.35},{"x":325,"y":0.42},{"x":327,"y":0.3},{"x":329,"y":0.2},{"x":331,"y":0.17},{"x":333,"y":0.15},{"x":335,"y":0.12},{"x":337,"y":0.15},{"x":339,"y":0.25},{"x":340,"y":0.3},{"x":342,"y":0.2},{"x":344,"y":0.12},{"x":346,"y":0.08},{"x":348,"y":0.05},{"x":350,"y":0.1},{"x":352,"y":0.14},{"x":354,"y":0.15},{"x":356,"y":0.12},{"x":358,"y":0.12},{"x":360,"y":0.18},{"x":362,"y":0.22},{"x":363,"y":0.25},{"x":365,"y":0.18},{"x":367,"y":0.15},{"x":369,"y":0.12},{"x":371,"y":0.18},{"x":373,"y":0.22},{"x":374,"y":0.25},{"x":376,"y":0.18},{"x":378,"y":0.12},{"x":380,"y":0.11},{"x":382,"y":0.1},{"x":384,"y":0.09},{"x":386,"y":0.12},{"x":388,"y":0.2},{"x":390,"y":0.27},{"x":392,"y":0.18},{"x":394,"y":0.1},{"x":396,"y":0.12},{"x":398,"y":0.18},{"x":399,"y":0.2},{"x":401,"y":0.15},{"x":403,"y":0.1},{"x":405,"y":0.08},{"x":407,"y":0.06},{"x":409,"y":0.04},{"x":411,"y":0.01},{"x":412,"y":0.0},{"x":414,"y":0.04},{"x":416,"y":0.06},{"x":419,"y":0.08},{"x":422,"y":0.1},{"x":424,"y":0.12},{"x":426,"y":0.2},{"x":428,"y":0.45},{"x":430,"y":0.8},{"x":432,"y":0.5},{"x":434,"y":0.25},{"x":436,"y":0.08},{"x":438,"y":0.04},{"x":440,"y":0.01},{"x":442,"y":0.0},{"x":444,"y":0.02},{"x":447,"y":0.04},{"x":450,"y":0.05},{"x":453,"y":0.06},{"x":455,"y":0.08},{"x":457,"y":0.2},{"x":459,"y":0.4},{"x":461,"y":0.15},{"x":463,"y":0.08},{"x":466,"y":0.1},{"x":469,"y":0.09},{"x":471,"y":0.06},{"x":473,"y":0.05},{"x":475,"y":0.15},{"x":477,"y":0.3},{"x":479,"y":0.45},{"x":481,"y":0.55},{"x":482,"y":0.57},{"x":484,"y":0.45},{"x":486,"y":0.35},{"x":488,"y":0.4},{"x":490,"y":0.3},{"x":492,"y":0.38},{"x":494,"y":0.28},{"x":496,"y":0.35},{"x":498,"y":0.3},{"x":500,"y":0.25},{"x":502,"y":0.2},{"x":504,"y":0.22},{"x":506,"y":0.28},{"x":508,"y":0.35},{"x":510,"y":0.3},{"x":512,"y":0.22},{"x":514,"y":0.2},{"x":516,"y":0.15},{"x":518,"y":0.12},{"x":521,"y":0.1},{"x":524,"y":0.08},{"x":527,"y":0.05},{"x":529,"y":0.06},{"x":531,"y":0.2},{"x":533,"y":0.4},{"x":535,"y":0.48},{"x":537,"y":0.35},{"x":539,"y":0.2},{"x":541,"y":0.18},{"x":543,"y":0.15},{"x":545,"y":0.18},{"x":547,"y":0.2},{"x":549,"y":0.2},{"x":551,"y":0.22},{"x":553,"y":0.28},{"x":555,"y":0.4},{"x":557,"y":0.3},{"x":558,"y":0.25},{"x":560,"y":0.3},{"x":562,"y":0.35},{"x":564,"y":0.3},{"x":566,"y":0.45}],
"d_d":[{"x":18,"y":0.2},{"x":20,"y":0.14},{"x":23,"y":0.1},{"x":26,"y":0.15},{"x":29,"y":0.12},{"x":32,"y":0.18},{"x":35,"y":0.15},{"x":38,"y":0.12},{"x":41,"y":0.1},{"x":45,"y":0.08},{"x":49,"y":0.07},{"x":53,"y":0.06},{"x":57,"y":0.08},{"x":61,"y":0.07},{"x":65,"y":0.09},{"x":69,"y":0.1},{"x":73,"y":0.11},{"x":77,"y":0.1},{"x":81,"y":0.12},{"x":85,"y":0.11},{"x":89,"y":0.13},{"x":92,"y":0.12},{"x":95,"y":0.2},{"x":97,"y":0.6},{"x":98,"y":0.95},{"x":99,"y":1.0},{"x":100,"y":0.8},{"x":101,"y":0.5},{"x":103,"y":0.25},{"x":105,"y":0.15},{"x":108,"y":0.12},{"x":112,"y":0.12},{"x":116,"y":0.12},{"x":120,"y":0.14},{"x":123,"y":0.15},{"x":126,"y":0.18},{"x":129,"y":0.12},{"x":133,"y":0.08},{"x":137,"y":0.1},{"x":141,"y":0.2},{"x":144,"y":0.25},{"x":147,"y":0.15},{"x":151,"y":0.12},{"x":155,"y":0.07},{"x":159,"y":0.03},{"x":163,"y":0.08},{"x":166,"y":0.13},{"x":170,"y":0.1},{"x":175,"y":0.08},{"x":180,"y":0.09},{"x":185,"y":0.1},{"x":190,"y":0.12},{"x":195,"y":0.11},{"x":199,"y":0.13},{"x":202,"y":0.2},{"x":205,"y":0.12},{"x":209,"y":0.06},{"x":213,"y":0.12},{"x":216,"y":0.18},{"x":220,"y":0.12},{"x":224,"y":0.15},{"x":227,"y":0.2},{"x":230,"y":0.12},{"x":234,"y":0.08},{"x":238,"y":0.12},{"x":241,"y":0.22},{"x":244,"y":0.45},{"x":246,"y":0.35},{"x":249,"y":0.3},{"x":252,"y":0.25},{"x":255,"y":0.3},{"x":258,"y":0.35},{"x":261,"y":0.27},{"x":264,"y":0.25},{"x":267,"y":0.28},{"x":270,"y":0.26},{"x":273,"y":0.22},{"x":276,"y":0.15},{"x":280,"y":0.1},{"x":283,"y":0.12},{"x":286,"y":0.25},{"x":289,"y":0.12},{"x":293,"y":0.05},{"x":297,"y":0.1},{"x":301,"y":0.12},{"x":305,"y":0.13},{"x":309,"y":0.15},{"x":313,"y":0.18},{"x":316,"y":0.25},{"x":319,"y":0.3},{"x":322,"y":0.28},{"x":325,"y":0.3},{"x":328,"y":0.22},{"x":332,"y":0.15},{"x":336,"y":0.13},{"x":340,"y":0.22},{"x":343,"y":0.15},{"x":347,"y":0.08},{"x":351,"y":0.12},{"x":355,"y":0.14},{"x":359,"y":0.13},{"x":363,"y":0.2},{"x":366,"y":0.16},{"x":370,"y":0.14},{"x":374,"y":0.2},{"x":377,"y":0.15},{"x":381,"y":0.11},{"x":385,"y":0.1},{"x":389,"y":0.2},{"x":392,"y":0.15},{"x":396,"y":0.13},{"x":400,"y":0.16},{"x":404,"y":0.1},{"x":408,"y":0.06},{"x":412,"y":0.04},{"x":416,"y":0.06},{"x":420,"y":0.08},{"x":424,"y":0.12},{"x":427,"y":0.25},{"x":429,"y":0.5},{"x":430,"y":0.6},{"x":432,"y":0.4},{"x":434,"y":0.2},{"x":437,"y":0.08},{"x":441,"y":0.04},{"x":445,"y":0.05},{"x":449,"y":0.06},{"x":453,"y":0.07},{"x":457,"y":0.15},{"x":459,"y":0.25},{"x":462,"y":0.12},{"x":466,"y":0.1},{"x":470,"y":0.07},{"x":474,"y":0.1},{"x":477,"y":0.2},{"x":480,"y":0.35},{"x":482,"y":0.42},{"x":485,"y":0.35},{"x":488,"y":0.3},{"x":491,"y":0.28},{"x":494,"y":0.25},{"x":497,"y":0.27},{"x":500,"y":0.2},{"x":503,"y":0.18},{"x":506,"y":0.22},{"x":509,"y":0.28},{"x":512,"y":0.2},{"x":516,"y":0.14},{"x":520,"y":0.1},{"x":524,"y":0.07},{"x":528,"y":0.08},{"x":531,"y":0.18},{"x":534,"y":0.3},{"x":536,"y":0.35},{"x":538,"y":0.25},{"x":541,"y":0.15},{"x":545,"y":0.16},{"x":549,"y":0.18},{"x":553,"y":0.22},{"x":556,"y":0.28},{"x":559,"y":0.22},{"x":562,"y":0.25},{"x":566,"y":0.22}],
"i_s":[{"x":18,"y":0.47},{"x":19,"y":0.25},{"x":20,"y":0.15},{"x":22,"y":0.12},{"x":24,"y":0.14},{"x":26,"y":0.12},{"x":28,"y":0.1},{"x":30,"y":0.13},{"x":32,"y":0.15},{"x":34,"y":0.2},{"x":36,"y":0.32},{"x":38,"y":0.22},{"x":40,"y":0.18},{"x":42,"y":0.16},{"x":44,"y":0.12},{"x":47,"y":0.1},{"x":50,"y":0.09},{"x":53,"y":0.08},{"x":56,"y":0.1},{"x":59,"y":0.08},{"x":62,"y":0.1},{"x":65,"y":0.12},{"x":68,"y":0.1},{"x":71,"y":0.14},{"x":73,"y":0.16},{"x":75,"y":0.13},{"x":78,"y":0.17},{"x":80,"y":0.14},{"x":82,"y":0.18},{"x":84,"y":0.15},{"x":86,"y":0.17},{"x":88,"y":0.13},{"x":90,"y":0.18},{"x":92,"y":0.15},{"x":94,"y":0.15},{"x":96,"y":0.3},{"x":97,"y":0.6},{"x":98,"y":0.95},{"x":99,"y":0.98},{"x":100,"y":0.7},{"x":101,"y":0.45},{"x":103,"y":0.2},{"x":105,"y":0.1},{"x":108,"y":0.08},{"x":111,"y":0.07},{"x":114,"y":0.08},{"x":117,"y":0.1},{"x":119,"y":0.12},{"x":121,"y":0.18},{"x":123,"y":0.2},{"x":125,"y":0.15},{"x":127,"y":0.1},{"x":129,"y":0.09},{"x":131,"y":0.08},{"x":134,"y":0.07},{"x":137,"y":0.08},{"x":140,"y":0.15},{"x":142,"y":0.2},{"x":144,"y":0.25},{"x":146,"y":0.2},{"x":148,"y":0.1},{"x":151,"y":0.08},{"x":154,"y":0.07},{"x":157,"y":0.06},{"x":160,"y":0.06},{"x":163,"y":0.08},{"x":165,"y":0.12},{"x":167,"y":0.15},{"x":169,"y":0.12},{"x":172,"y":0.1},{"x":175,"y":0.08},{"x":178,"y":0.09},{"x":181,"y":0.08},{"x":184,"y":0.09},{"x":187,"y":0.1},{"x":189,"y":0.12},{"x":191,"y":0.16},{"x":193,"y":0.12},{"x":195,"y":0.15},{"x":196,"y":0.3},{"x":198,"y":0.5},{"x":200,"y":0.8},{"x":202,"y":0.88},{"x":203,"y":0.75},{"x":205,"y":0.4},{"x":207,"y":0.15},{"x":209,"y":0.1},{"x":211,"y":0.12},{"x":213,"y":0.14},{"x":215,"y":0.12},{"x":217,"y":0.1},{"x":219,"y":0.15},{"x":221,"y":0.2},{"x":222,"y":0.35},{"x":224,"y":0.52},{"x":226,"y":0.5},{"x":227,"y":0.52},{"x":229,"y":0.3},{"x":230,"y":0.2},{"x":232,"y":0.25},{"x":234,"y":0.3},{"x":236,"y":0.45},{"x":238,"y":0.5},{"x":240,"y":0.65},{"x":242,"y":0.8},{"x":244,"y":0.93},{"x":245,"y":0.95},{"x":246.6,"y":0.88},{"x":246.8,"y":0.0},{"x":394.8,"y":0.0},{"x":395,"y":0.74},{"x":397,"y":0.65},{"x":399,"y":0.5},{"x":401,"y":0.3},{"x":403,"y":0.2},{"x":405,"y":0.12},{"x":407,"y":0.1},{"x":410,"y":0.08},{"x":413,"y":0.07},{"x":416,"y":0.09},{"x":419,"y":0.1},{"x":422,"y":0.12},{"x":425,"y":0.15},{"x":427,"y":0.25},{"x":429,"y":0.35},{"x":430,"y":0.4},{"x":432,"y":0.3},{"x":434,"y":0.15},{"x":436,"y":0.1},{"x":439,"y":0.08},{"x":442,"y":0.06},{"x":445,"y":0.07},{"x":448,"y":0.08},{"x":451,"y":0.07},{"x":454,"y":0.1},{"x":457,"y":0.15},{"x":459,"y":0.2},{"x":461,"y":0.12},{"x":464,"y":0.1},{"x":467,"y":0.09},{"x":470,"y":0.1},{"x":473,"y":0.12},{"x":476,"y":0.18},{"x":478,"y":0.25},{"x":480,"y":0.35},{"x":482,"y":0.33},{"x":484,"y":0.25},{"x":486,"y":0.22},{"x":488,"y":0.25},{"x":490,"y":0.2},{"x":492,"y":0.22},{"x":494,"y":0.18},{"x":496,"y":0.25},{"x":498,"y":0.28},{"x":500,"y":0.22},{"x":502,"y":0.16},{"x":504,"y":0.15},{"x":506,"y":0.22},{"x":508,"y":0.3},{"x":510,"y":0.26},{"x":512,"y":0.22},{"x":514,"y":0.18},{"x":516,"y":0.12},{"x":518,"y":0.1},{"x":521,"y":0.08},{"x":524,"y":0.07},{"x":527,"y":0.1},{"x":529,"y":0.18},{"x":531,"y":0.22},{"x":533,"y":0.28},{"x":535,"y":0.3},{"x":537,"y":0.22},{"x":539,"y":0.18},{"x":541,"y":0.2},{"x":543,"y":0.18},{"x":545,"y":0.2},{"x":547,"y":0.22},{"x":549,"y":0.2},{"x":551,"y":0.25},{"x":553,"y":0.22},{"x":555,"y":0.2},{"x":557,"y":0.22},{"x":559,"y":0.18},{"x":561,"y":0.25},{"x":563,"y":0.3},{"x":565,"y":0.4},{"x":566,"y":0.44}],
"i_d":[{"x":18,"y":0.18},{"x":20,"y":0.12},{"x":23,"y":0.1},{"x":26,"y":0.13},{"x":29,"y":0.1},{"x":32,"y":0.15},{"x":35,"y":0.2},{"x":38,"y":0.18},{"x":41,"y":0.12},{"x":45,"y":0.1},{"x":49,"y":0.08},{"x":53,"y":0.07},{"x":57,"y":0.09},{"x":61,"y":0.08},{"x":65,"y":0.1},{"x":69,"y":0.11},{"x":73,"y":0.1},{"x":77,"y":0.12},{"x":81,"y":0.11},{"x":85,"y":0.13},{"x":89,"y":0.12},{"x":93,"y":0.13},{"x":95,"y":0.25},{"x":97,"y":0.65},{"x":98,"y":0.95},{"x":99,"y":1.0},{"x":100,"y":0.8},{"x":101,"y":0.5},{"x":103,"y":0.2},{"x":105,"y":0.1},{"x":108,"y":0.07},{"x":112,"y":0.06},{"x":116,"y":0.08},{"x":120,"y":0.15},{"x":123,"y":0.2},{"x":126,"y":0.15},{"x":129,"y":0.08},{"x":133,"y":0.07},{"x":137,"y":0.08},{"x":141,"y":0.15},{"x":144,"y":0.22},{"x":147,"y":0.15},{"x":151,"y":0.08},{"x":155,"y":0.06},{"x":159,"y":0.06},{"x":163,"y":0.08},{"x":167,"y":0.12},{"x":171,"y":0.1},{"x":175,"y":0.08},{"x":180,"y":0.09},{"x":185,"y":0.08},{"x":190,"y":0.1},{"x":195,"y":0.09},{"x":199,"y":0.1},{"x":202,"y":0.12},{"x":205,"y":0.1},{"x":209,"y":0.09},{"x":213,"y":0.11},{"x":217,"y":0.1},{"x":221,"y":0.12},{"x":224,"y":0.2},{"x":227,"y":0.15},{"x":230,"y":0.08},{"x":233,"y":0.1},{"x":236,"y":0.18},{"x":239,"y":0.2},{"x":242,"y":0.22},{"x":244,"y":0.25},{"x":246,"y":0.38},{"x":248,"y":0.45},{"x":250,"y":0.35},{"x":252,"y":0.3},{"x":254,"y":0.33},{"x":256,"y":0.28},{"x":258,"y":0.32},{"x":260,"y":0.25},{"x":262,"y":0.28},{"x":264,"y":0.3},{"x":266,"y":0.22},{"x":268,"y":0.2},{"x":270,"y":0.25},{"x":272,"y":0.28},{"x":274,"y":0.2},{"x":276,"y":0.12},{"x":279,"y":0.08},{"x":282,"y":0.1},{"x":284,"y":0.15},{"x":287,"y":0.2},{"x":290,"y":0.12},{"x":293,"y":0.08},{"x":296,"y":0.07},{"x":299,"y":0.08},{"x":302,"y":0.1},{"x":305,"y":0.08},{"x":308,"y":0.12},{"x":311,"y":0.15},{"x":314,"y":0.14},{"x":317,"y":0.2},{"x":320,"y":0.25},{"x":323,"y":0.2},{"x":326,"y":0.18},{"x":329,"y":0.2},{"x":332,"y":0.22},{"x":335,"y":0.18},{"x":338,"y":0.15},{"x":341,"y":0.12},{"x":344,"y":0.08},{"x":347,"y":0.07},{"x":350,"y":0.1},{"x":353,"y":0.12},{"x":356,"y":0.1},{"x":359,"y":0.14},{"x":362,"y":0.2},{"x":364,"y":0.25},{"x":366,"y":0.2},{"x":369,"y":0.15},{"x":372,"y":0.18},{"x":375,"y":0.2},{"x":378,"y":0.15},{"x":381,"y":0.12},{"x":384,"y":0.1},{"x":387,"y":0.09},{"x":390,"y":0.12},{"x":393,"y":0.18},{"x":396,"y":0.2},{"x":398,"y":0.15},{"x":401,"y":0.1},{"x":404,"y":0.08},{"x":408,"y":0.07},{"x":412,"y":0.07},{"x":416,"y":0.09},{"x":420,"y":0.1},{"x":424,"y":0.12},{"x":427,"y":0.25},{"x":429,"y":0.4},{"x":430,"y":0.45},{"x":432,"y":0.3},{"x":434,"y":0.15},{"x":437,"y":0.08},{"x":441,"y":0.05},{"x":445,"y":0.06},{"x":449,"y":0.07},{"x":453,"y":0.08},{"x":457,"y":0.12},{"x":460,"y":0.15},{"x":463,"y":0.1},{"x":467,"y":0.09},{"x":471,"y":0.1},{"x":475,"y":0.15},{"x":478,"y":0.25},{"x":480,"y":0.38},{"x":481,"y":0.4},{"x":483,"y":0.3},{"x":486,"y":0.25},{"x":489,"y":0.22},{"x":492,"y":0.2},{"x":495,"y":0.24},{"x":498,"y":0.28},{"x":501,"y":0.2},{"x":504,"y":0.18},{"x":507,"y":0.25},{"x":509,"y":0.28},{"x":512,"y":0.22},{"x":515,"y":0.15},{"x":519,"y":0.1},{"x":523,"y":0.07},{"x":527,"y":0.1},{"x":530,"y":0.2},{"x":533,"y":0.28},{"x":535,"y":0.3},{"x":538,"y":0.22},{"x":541,"y":0.17},{"x":545,"y":0.2},{"x":549,"y":0.18},{"x":553,"y":0.22},{"x":557,"y":0.2},{"x":561,"y":0.25},{"x":565,"y":0.22}],
"rules":[{"p":"WT","x":170.5,"y":0.942,"x2":191.6,"y2":0.636},{"p":"WT","x":191.6,"y":0.636,"x2":180.2,"y2":0.676},{"p":"WT","x":191.6,"y":0.636,"x2":188.3,"y2":0.752},{"p":"DINS","x":255.6,"y":0.56,"x2":392.8,"y2":0.56},{"p":"DINS","x":255.6,"y":0.56,"x2":270.4,"y2":0.615},{"p":"DINS","x":255.6,"y":0.56,"x2":270.4,"y2":0.505},{"p":"DINS","x":392.8,"y":0.56,"x2":378,"y2":0.615},{"p":"DINS","x":392.8,"y":0.56,"x2":378,"y2":0.505}],
"labels":[{"p":"WT","x":670,"y":0.39,"t":"WT"},{"p":"WT","x":232.6,"y":1.03,"t":"PBL (199-206)"},{"p":"G217A","x":669,"y":0.49,"t":"G217A"},{"p":"E218A","x":670,"y":0.364,"t":"E218A"},{"p":"E218D","x":682,"y":0.4,"t":"E218D"},{"p":"DINS","x":683,"y":0.38,"t":"ΔINS"},{"p":"DINS","x":324,"y":0.7,"t":"INS"}],
"ytitle":[{"x":-117,"y":0.042,"t":"B"}],
"ytitle2":[{"x":-117,"y":0.042,"t":"-factor"}]
},
"vconcat":[
{"width":619,"height":109,"layer":[
 {"data":{"name":"wt_s"},"mark":{"type":"line","color":"black","strokeWidth":1.2},"encoding":{"x":{"field":"x","type":"quantitative","scale":{"domain":[0,600],"nice":false},"axis":{"values":[0,200,400,600],"format":"d","title":null}},"y":{"field":"y","type":"quantitative","scale":{"domain":[0,1],"nice":false},"axis":{"values":[0,0.5,1],"format":"~g","title":null}}}},
 {"data":{"name":"wt_d"},"mark":{"type":"line","color":"black","strokeWidth":2.8,"strokeDash":[4,2]},"encoding":{"x":{"field":"x","type":"quantitative"},"y":{"field":"y","type":"quantitative"}}},
 {"data":{"name":"rules"},"transform":[{"filter":"datum.p=='WT'"}],"mark":{"type":"rule","color":"black","strokeWidth":1.2},"encoding":{"x":{"field":"x","type":"quantitative"},"y":{"field":"y","type":"quantitative"},"x2":{"field":"x2"},"y2":{"field":"y2"}}},
 {"data":{"name":"labels"},"transform":[{"filter":"datum.p=='WT'"}],"mark":{"type":"text","font":"Liberation Serif","fontSize":31,"color":"black"},"encoding":{"x":{"field":"x","type":"quantitative"},"y":{"field":"y","type":"quantitative"},"text":{"field":"t"}}}
]},
{"width":619,"height":109,"layer":[
 {"data":{"name":"g_s"},"mark":{"type":"line","color":"black","strokeWidth":1.2},"encoding":{"x":{"field":"x","type":"quantitative","scale":{"domain":[0,600],"nice":false},"axis":{"values":[0,200,400,600],"format":"d","title":null}},"y":{"field":"y","type":"quantitative","scale":{"domain":[0,1],"nice":false},"axis":{"values":[0,0.5,1],"format":"~g","title":null}}}},
 {"data":{"name":"g_d"},"mark":{"type":"line","color":"black","strokeWidth":2.8,"strokeDash":[4,2]},"encoding":{"x":{"field":"x","type":"quantitative"},"y":{"field":"y","type":"quantitative"}}},
 {"data":{"name":"labels"},"transform":[{"filter":"datum.p=='G217A'"}],"mark":{"type":"text","font":"Liberation Serif","fontSize":31,"color":"black"},"encoding":{"x":{"field":"x","type":"quantitative"},"y":{"field":"y","type":"quantitative"},"text":{"field":"t"}}}
]},
{"width":619,"height":119,"layer":[
 {"data":{"name":"a_s"},"mark":{"type":"line","color":"black","strokeWidth":1.2},"encoding":{"x":{"field":"x","type":"quantitative","scale":{"domain":[0,600],"nice":false},"axis":{"values":[0,200,400,600],"format":"d","title":".","titleOpacity":0,"titleFontSize":12,"titlePadding":9}},"y":{"field":"y","type":"quantitative","scale":{"domain":[0,1],"nice":false},"axis":{"values":[0,0.5,1],"format":"~g","title":null}}}},
 {"data":{"name":"a_d"},"mark":{"type":"line","color":"black","strokeWidth":2.8,"strokeDash":[4,2]},"encoding":{"x":{"field":"x","type":"quantitative"},"y":{"field":"y","type":"quantitative"}}},
 {"data":{"name":"labels"},"transform":[{"filter":"datum.p=='E218A'"}],"mark":{"type":"text","font":"Liberation Serif","fontSize":31,"color":"black"},"encoding":{"x":{"field":"x","type":"quantitative"},"y":{"field":"y","type":"quantitative"},"text":{"field":"t"}}},
 {"data":{"name":"ytitle"},"mark":{"type":"text","font":"Liberation Serif","fontSize":36,"fontWeight":"bold","fontStyle":"italic","angle":270,"align":"right","baseline":"middle","color":"black"},"encoding":{"x":{"field":"x","type":"quantitative"},"y":{"field":"y","type":"quantitative"},"text":{"field":"t"}}},
 {"data":{"name":"ytitle2"},"mark":{"type":"text","font":"Liberation Serif","fontSize":36,"fontWeight":"bold","angle":270,"align":"left","baseline":"middle","color":"black"},"encoding":{"x":{"field":"x","type":"quantitative"},"y":{"field":"y","type":"quantitative"},"text":{"field":"t"}}}
]},
{"width":608,"height":109,"layer":[
 {"data":{"name":"d_s"},"mark":{"type":"line","color":"black","strokeWidth":1.2},"encoding":{"x":{"field":"x","type":"quantitative","scale":{"domain":[0,600],"nice":false},"axis":{"values":[0,200,400,600],"format":"d","title":null}},"y":{"field":"y","type":"quantitative","scale":{"domain":[0,1],"nice":false},"axis":{"values":[0,0.5,1],"format":"~g","title":null}}}},
 {"data":{"name":"d_d"},"mark":{"type":"line","color":"black","strokeWidth":2.8,"strokeDash":[4,2]},"encoding":{"x":{"field":"x","type":"quantitative"},"y":{"field":"y","type":"quantitative"}}},
 {"data":{"name":"labels"},"transform":[{"filter":"datum.p=='E218D'"}],"mark":{"type":"text","font":"Liberation Serif","fontSize":31,"color":"black"},"encoding":{"x":{"field":"x","type":"quantitative"},"y":{"field":"y","type":"quantitative"},"text":{"field":"t"}}}
]},
{"width":608,"height":109,"layer":[
 {"data":{"name":"i_s"},"mark":{"type":"line","color":"black","strokeWidth":1.2},"encoding":{"x":{"field":"x","type":"quantitative","scale":{"domain":[0,600],"nice":false},"axis":{"values":[0,200,400,600],"format":"d","title":"Residue number","titleFontSize":35,"titleFontWeight":"bold","titlePadding":16}},"y":{"field":"y","type":"quantitative","scale":{"domain":[0,1],"nice":false},"axis":{"values":[0,0.5,1],"format":"~g","title":null}}}},
 {"data":{"name":"i_d"},"mark":{"type":"line","color":"black","strokeWidth":2.8,"strokeDash":[4,2]},"encoding":{"x":{"field":"x","type":"quantitative"},"y":{"field":"y","type":"quantitative"}}},
 {"data":{"name":"rules"},"transform":[{"filter":"datum.p=='DINS'"}],"mark":{"type":"rule","color":"black","strokeWidth":1.2},"encoding":{"x":{"field":"x","type":"quantitative"},"y":{"field":"y","type":"quantitative"},"x2":{"field":"x2"},"y2":{"field":"y2"}}},
 {"data":{"name":"labels"},"transform":[{"filter":"datum.p=='DINS'"}],"mark":{"type":"text","font":"Liberation Serif","fontSize":31,"color":"black"},"encoding":{"x":{"field":"x","type":"quantitative"},"y":{"field":"y","type":"quantitative"},"text":{"field":"t"}}}
]}
]
}
